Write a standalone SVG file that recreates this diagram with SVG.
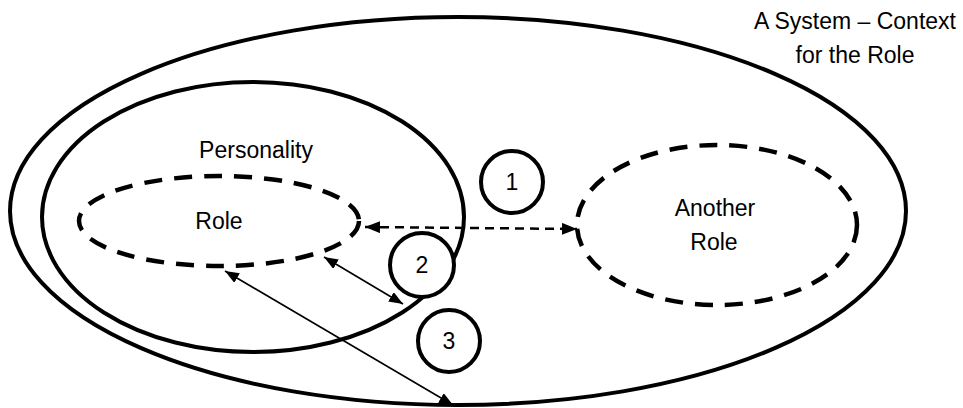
<svg xmlns="http://www.w3.org/2000/svg" width="963" height="408" viewBox="0 0 963 408">
<style>
.solid{fill:none;stroke:#000;stroke-width:4}
.dash{fill:none;stroke:#000;stroke-width:4.5;stroke-dasharray:18 12}
.num{fill:#fff;stroke:#000;stroke-width:4}
.lbl{font-family:"Liberation Sans",Arial,sans-serif;font-size:23px;fill:#000;text-anchor:middle}
.arr{fill:none;stroke:#000;stroke-width:1.6}
.arrd{fill:none;stroke:#000;stroke-width:2.5;stroke-dasharray:9 6}
</style>
<defs>
<marker id="ah" markerUnits="userSpaceOnUse" markerWidth="16" markerHeight="12" refX="15" refY="6" orient="auto-start-reverse">
<path d="M0,0 L15,6 L0,12 z" fill="#000" stroke="none"/>
</marker>
<marker id="ahs" markerUnits="userSpaceOnUse" markerWidth="15" markerHeight="11" refX="14" refY="5.5" orient="auto-start-reverse">
<path d="M0,0 L14,5.5 L0,11 z" fill="#000" stroke="none"/>
</marker>
</defs>
<g id="system">
<ellipse class="solid" cx="458" cy="211" rx="448" ry="194"/>
<text class="lbl" x="855" y="29">A System – Context</text>
<text class="lbl" x="855" y="63">for the Role</text>
</g>
<g id="personality">
<ellipse class="solid" cx="253" cy="217" rx="211" ry="135"/>
<text class="lbl" x="256" y="158">Personality</text>
</g>
<g id="role">
<ellipse class="dash" cx="219" cy="221" rx="140" ry="45"/>
<text class="lbl" x="219" y="229">Role</text>
</g>
<g id="another-role">
<ellipse class="dash" cx="717" cy="225" rx="140" ry="80"/>
<text class="lbl" x="715" y="216">Another</text>
<text class="lbl" x="714" y="250">Role</text>
</g>
<g id="c1">
<circle class="num" cx="512" cy="182" r="31"/>
<text class="lbl" x="512" y="190">1</text>
</g>
<g id="c2">
<circle class="num" cx="422" cy="265" r="32"/>
<text class="lbl" x="422" y="273">2</text>
</g>
<g id="c3">
<circle class="num" cx="449" cy="341" r="31"/>
<text class="lbl" x="449" y="349">3</text>
</g>
<g id="connectors">
<line class="arrd" x1="365" y1="227" x2="577" y2="229" marker-start="url(#ah)" marker-end="url(#ah)"/>
<line class="arr" x1="324" y1="257" x2="403" y2="304" marker-start="url(#ahs)" marker-end="url(#ahs)"/>
<line class="arr" x1="225" y1="271" x2="453" y2="405" marker-start="url(#ahs)" marker-end="url(#ahs)"/>
</g>
</svg>
